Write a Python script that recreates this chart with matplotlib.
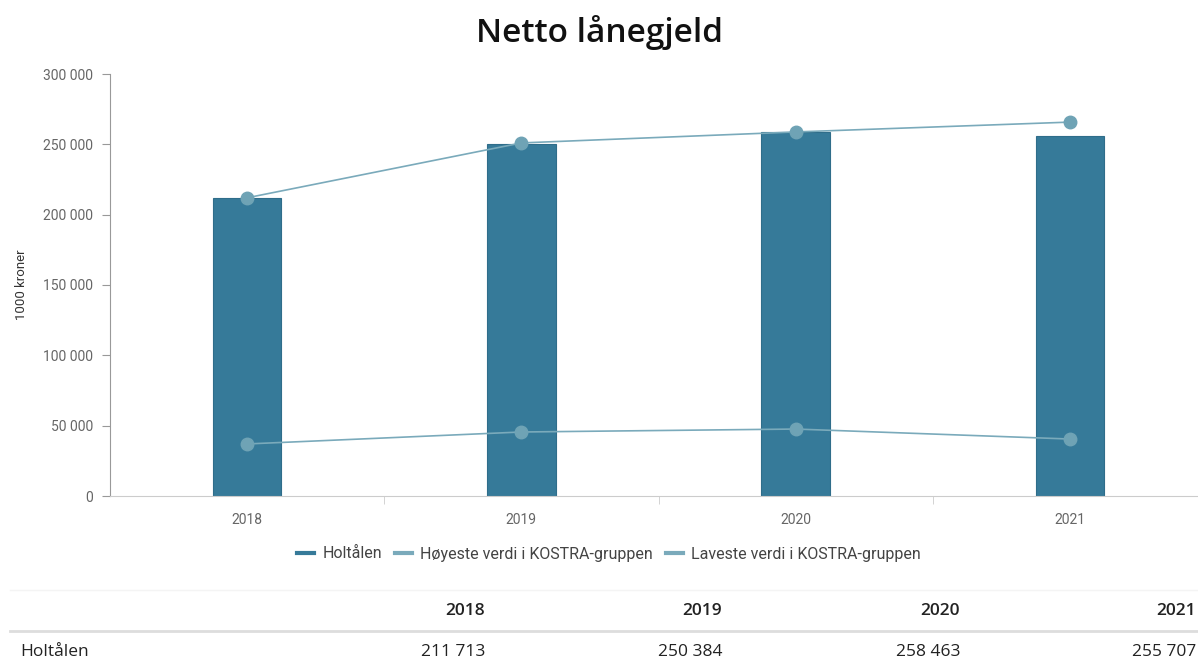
import matplotlib.pyplot as plt
from matplotlib.lines import Line2D

years = ['2018', '2019', '2020', '2021']
holtalen = [211713, 250384, 258463, 255707]
hoyeste = [212000, 251000, 258800, 265800]
laveste = [37000, 45500, 47600, 40500]

bar_color = '#367a99'
line_color = '#7aaabb'
marker_color = '#6fa3b5'
tick_color = '#666666'

def fmt(v):
    return f'{v:,.0f}'.replace(',', ' ')

fig = plt.figure(figsize=(11.98, 6.6), dpi=100)
ax = fig.add_axes([110 / 1198, 164 / 660, 1097 / 1198, 422 / 660])

x = range(len(years))
ax.bar(x, holtalen, width=0.25, color=bar_color, edgecolor='#2f6d8a', linewidth=0.8, zorder=2)
ax.plot(x, hoyeste, color=line_color, lw=1.2, marker='o', ms=9,
        mfc=marker_color, mec=marker_color, zorder=3)
ax.plot(x, laveste, color=line_color, lw=1.2, marker='o', ms=9,
        mfc=marker_color, mec=marker_color, zorder=3)

ax.set_xlim(-0.5, 3.5)
ax.set_ylim(0, 300000)
ax.set_yticks(range(0, 300001, 50000))
ax.set_yticklabels([fmt(v) for v in range(0, 300001, 50000)])
ax.set_xticks(list(x))
ax.set_xticklabels(years)
ax.set_xticks([0.5, 1.5, 2.5], minor=True)
ax.tick_params(axis='x', which='major', length=0, pad=12, labelsize=10, labelcolor=tick_color)
ax.tick_params(axis='x', which='minor', length=6, color='#cccccc')
ax.tick_params(axis='y', length=6, color='#999999', labelsize=10, labelcolor=tick_color, pad=6)
for lab in ax.get_xticklabels() + ax.get_yticklabels():
    lab.set_family('Roboto')

for s in ['top', 'right']:
    ax.spines[s].set_visible(False)
ax.spines['left'].set_color('#999999')
ax.spines['bottom'].set_color('#cccccc')

ax.set_ylabel('1000 kroner', fontsize=9.5, color='#333333', family='Roboto', labelpad=11)

fig.text(0.5, 1 - 33 / 660, 'Netto lånegjeld', ha='center', va='center',
         fontsize=24, family='Open Sans', fontweight='semibold', color='#111111')

handles = [
    Line2D([], [], color=bar_color, lw=3),
    Line2D([], [], color=line_color, lw=3),
    Line2D([], [], color=line_color, lw=3),
]
labels = ['Holtålen', 'Høyeste verdi i KOSTRA-gruppen', 'Laveste verdi i KOSTRA-gruppen']
leg = fig.legend(handles, labels, loc='center', bbox_to_anchor=(609 / 1198, 1 - 554 / 660),
                 ncol=3, frameon=False, handlelength=1.1, handletextpad=0.5,
                 columnspacing=0.8, prop={'family': 'Roboto', 'size': 11.5})
for t in leg.get_texts():
    t.set_color('#444444')

# table below the chart
col_right = [485, 722, 960, 1196]
for cx, yr, val in zip(col_right, years, holtalen):
    fig.text(cx / 1198, 1 - 611 / 660, yr, ha='right', va='center', fontsize=12.5,
             family='Open Sans', fontweight='semibold', color='#222222')
    fig.text(cx / 1198, 1 - 652 / 660, fmt(val), ha='right', va='center', fontsize=12.5,
             family='Open Sans', color='#222222')
fig.text(20 / 1198, 1 - 652 / 660, 'Holtålen', ha='left', va='center', fontsize=12.5,
         family='Open Sans', color='#222222')
fig.add_artist(Line2D([10 / 1198, 1], [1 - 631 / 660] * 2, color='#dddddd', lw=2))
fig.add_artist(Line2D([10 / 1198, 1], [1 - 590 / 660] * 2, color='#f4f4f4', lw=1))

fig.savefig('out.png', dpi=100)
